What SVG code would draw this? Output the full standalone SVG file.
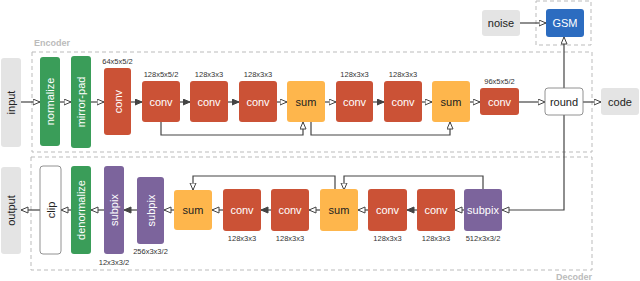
<svg xmlns="http://www.w3.org/2000/svg" width="640" height="281" viewBox="0 0 640 281">
<style>
text{font-family:"Liberation Sans",Arial,sans-serif}
.n{stroke:none}
.conv{fill:#cb5236}
.sum{fill:#feb64c}
.grn{fill:#3a9d59}
.pur{fill:#7c649c}
.gry{fill:#e4e4e4}
.wht{fill:#fff;stroke:#777;stroke-width:0.8}
.gsm{fill:#2c6cc0}
.t{font-size:11px;text-anchor:middle;dominant-baseline:central}
.tw{fill:#fff}
.td{fill:#222}
.lb{font-size:7.5px;fill:#333;text-anchor:middle}
.box{fill:none;stroke:#bbb;stroke-width:1;stroke-dasharray:4 3}
.hd{font-size:9px;font-weight:bold;fill:#bbb}
.c{fill:none;stroke:#444;stroke-width:1.2}
.h{marker-end:url(#ho)}
.f{marker-end:url(#fi)}
</style>
<defs>
<marker id="ho" markerUnits="userSpaceOnUse" markerWidth="9" markerHeight="8" refX="7.5" refY="3.5" orient="auto">
<path d="M0.5,0.5 L7.5,3.5 L0.5,6.5 z" fill="#fff" stroke="#444" stroke-width="1"/>
</marker>
<marker id="fi" markerUnits="userSpaceOnUse" markerWidth="9" markerHeight="8" refX="7.5" refY="3.5" orient="auto">
<path d="M0.5,0.5 L7.5,3.5 L0.5,6.5 z" fill="#444" stroke="#444" stroke-width="1"/>
</marker>
</defs>

<g id="frames">
<rect class="box" x="32" y="52" width="560" height="100"/>
<rect class="box" x="31" y="157" width="561" height="113"/>
<rect class="box" x="536" y="1" width="55" height="44"/>
<text class="hd" x="34" y="46">Encoder</text>
<text class="hd" x="592" y="280" text-anchor="end">Decoder</text>
</g>

<g id="connectors">
<path class="c h" d="M21,102 H40"/>
<path class="c h" d="M60,102 H71"/>
<path class="c h" d="M91,102 H104"/>
<path class="c f" d="M131,102 H142"/>
<path class="c f" d="M180,102 H190"/>
<path class="c f" d="M228,102 H239"/>
<path class="c h" d="M277,102 H287"/>
<path class="c h" d="M325,102 H336"/>
<path class="c f" d="M373,102 H384"/>
<path class="c h" d="M422,102 H432"/>
<path class="c h" d="M470,102 H480"/>
<path class="c h" d="M519,102 H545"/>
<path class="c h" d="M583,102 H601"/>
<path class="c h" d="M520,23 H546"/>
<path class="c h" d="M564,88 V37"/>
<path class="c h" d="M161,122 V135 H303 V122"/>
<path class="c h" d="M311,122 V135 H450 V122"/>
<path class="c h" d="M564,115 V210 H502"/>
<path class="c h" d="M464,210 H455"/>
<path class="c f" d="M417,210 H407"/>
<path class="c h" d="M368,210 H358"/>
<path class="c h" d="M320,210 H309"/>
<path class="c f" d="M271,210 H261"/>
<path class="c h" d="M223,210 H212"/>
<path class="c h" d="M174,210 H164"/>
<path class="c f" d="M137,210 H124"/>
<path class="c h" d="M104,210 H91"/>
<path class="c h" d="M71,210 H61"/>
<path class="c h" d="M40,210 H21"/>
<path class="c h" d="M483,189 V176 H344 V190"/>
<path class="c h" d="M335,190 V176 H193 V190"/>
</g>

<g id="input"><rect class="n gry" x="1" y="58" width="20" height="89" rx="3"/><text class="t td" transform="translate(11,102.5) rotate(-90)">input</text></g>
<g id="normalize"><rect class="n grn" x="40" y="57" width="20" height="89" rx="3"/><text class="t tw" transform="translate(50,101.5) rotate(-90)">normalize</text></g>
<g id="mirror-pad"><rect class="n grn" x="71" y="56" width="20" height="92" rx="3"/><text class="t tw" transform="translate(81,102) rotate(-90)">mirror-pad</text></g>
<g id="enc-conv0"><rect class="n conv" x="104" y="68" width="27" height="67" rx="3"/><text class="t tw" transform="translate(117.5,101.5) rotate(-90)">conv</text><text class="lb" x="117.5" y="63.5">64x5x5/2</text></g>
<g id="enc-conv1"><rect class="n conv" x="142" y="81" width="38" height="41" rx="3"/><text class="t tw" x="161" y="101.5">conv</text><text class="lb" x="161" y="77">128x5x5/2</text></g>
<g id="enc-conv2"><rect class="n conv" x="190" y="81" width="38" height="41" rx="3"/><text class="t tw" x="209" y="101.5">conv</text><text class="lb" x="209" y="77">128x3x3</text></g>
<g id="enc-conv3"><rect class="n conv" x="239" y="81" width="38" height="41" rx="3"/><text class="t tw" x="258" y="101.5">conv</text><text class="lb" x="258" y="77">128x3x3</text></g>
<g id="enc-sum1"><rect class="n sum" x="287" y="81" width="38" height="41" rx="3"/><text class="t td" x="306" y="101.5">sum</text></g>
<g id="enc-conv4"><rect class="n conv" x="336" y="81" width="37" height="41" rx="3"/><text class="t tw" x="354.5" y="101.5">conv</text><text class="lb" x="354.5" y="77">128x3x3</text></g>
<g id="enc-conv5"><rect class="n conv" x="384" y="81" width="38" height="41" rx="3"/><text class="t tw" x="403" y="101.5">conv</text><text class="lb" x="403" y="77">128x3x3</text></g>
<g id="enc-sum2"><rect class="n sum" x="432" y="81" width="38" height="41" rx="3"/><text class="t td" x="451" y="101.5">sum</text></g>
<g id="enc-conv6"><rect class="n conv" x="480" y="88" width="39" height="27" rx="3"/><text class="t tw" x="499.5" y="101.5">conv</text><text class="lb" x="499.5" y="84">96x5x5/2</text></g>
<g id="round"><rect class="wht" x="545" y="88" width="38" height="27" rx="3"/><text class="t td" x="564" y="101.5">round</text></g>
<g id="code"><rect class="n gry" x="601" y="88" width="38" height="27" rx="3"/><text class="t td" x="620" y="101.5">code</text></g>
<g id="noise"><rect class="n gry" x="482" y="10" width="38" height="26" rx="3"/><text class="t td" x="501" y="23">noise</text></g>
<g id="gsm"><rect class="n gsm" x="546" y="9" width="38" height="28" rx="3"/><text class="t tw" x="565" y="23">GSM</text></g>

<g id="dec-subpix0"><rect class="n pur" x="464" y="189" width="38" height="42" rx="3"/><text class="t tw" x="483" y="210">subpix</text><text class="lb" x="483" y="241">512x3x3/2</text></g>
<g id="dec-conv1"><rect class="n conv" x="417" y="189" width="38" height="42" rx="3"/><text class="t tw" x="436" y="210">conv</text><text class="lb" x="436" y="241">128x3x3</text></g>
<g id="dec-conv2"><rect class="n conv" x="368" y="189" width="39" height="42" rx="3"/><text class="t tw" x="387.5" y="210">conv</text><text class="lb" x="387.5" y="241">128x3x3</text></g>
<g id="dec-sum1"><rect class="n sum" x="320" y="189" width="38" height="42" rx="3"/><text class="t td" x="339" y="210">sum</text></g>
<g id="dec-conv3"><rect class="n conv" x="271" y="189" width="38" height="42" rx="3"/><text class="t tw" x="290" y="210">conv</text><text class="lb" x="290" y="241">128x3x3</text></g>
<g id="dec-conv4"><rect class="n conv" x="223" y="189" width="38" height="42" rx="3"/><text class="t tw" x="242" y="210">conv</text><text class="lb" x="242" y="241">128x3x3</text></g>
<g id="dec-sum2"><rect class="n sum" x="174" y="190" width="38" height="40" rx="3"/><text class="t td" x="193" y="210">sum</text></g>
<g id="dec-subpix1"><rect class="n pur" x="137" y="177" width="27" height="67" rx="3"/><text class="t tw" transform="translate(150.5,210.5) rotate(-90)">subpix</text><text class="lb" x="150.5" y="254">256x3x3/2</text></g>
<g id="dec-subpix2"><rect class="n pur" x="104" y="166" width="20" height="88" rx="3"/><text class="t tw" transform="translate(114,210) rotate(-90)">subpix</text><text class="lb" x="114" y="265">12x3x3/2</text></g>
<g id="denormalize"><rect class="n grn" x="71" y="166" width="20" height="88" rx="3"/><text class="t tw" transform="translate(81,210) rotate(-90)">denormalize</text></g>
<g id="clip"><rect class="wht" x="40" y="166" width="21" height="88" rx="3"/><text class="t td" transform="translate(50.5,210) rotate(-90)">clip</text></g>
<g id="output"><rect class="n gry" x="1" y="167" width="20" height="87" rx="3"/><text class="t td" transform="translate(11,210.5) rotate(-90)">output</text></g>
</svg>
